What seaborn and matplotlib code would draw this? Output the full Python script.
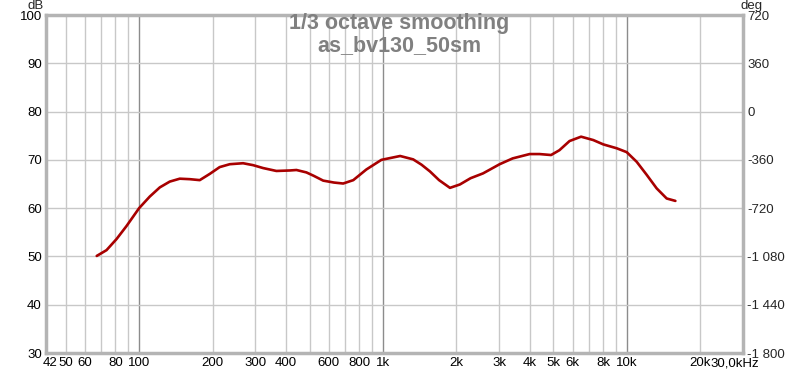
import seaborn as sns
import matplotlib.pyplot as plt
import matplotlib.ticker as mticker
import matplotlib.transforms as mtransforms
import pandas as pd

# Response curve (Hz, dB)
freq = [67, 73.5, 80.8, 88.8, 100, 110.6, 121.6, 133.6, 146.8, 161.3, 177.3, 195, 214,
        235.4, 267, 293.6, 322.6, 365.7, 415, 442, 485.5, 520, 569, 630, 687, 756, 855,
        986, 1177, 1331, 1440, 1560, 1700, 1884, 2069, 2289, 2575, 3013, 3406, 3998,
        4390, 4895, 5298, 5830, 6500, 7294, 8020, 9098, 10000, 10990, 12080, 13270,
        14590, 15840]
spl = [50.1, 51.3, 53.6, 56.3, 60.0, 62.4, 64.3, 65.5, 66.1, 66.0, 65.8, 67.1, 68.5,
       69.1, 69.3, 68.9, 68.3, 67.7, 67.8, 67.9, 67.4, 66.7, 65.7, 65.3, 65.1, 65.8, 68.0,
       70.0, 70.8, 70.1, 69.0, 67.6, 65.8, 64.2, 64.9, 66.2, 67.2, 69.1, 70.3, 71.2,
       71.2, 71.0, 72.0, 73.9, 74.8, 74.1, 73.2, 72.4, 71.6, 69.6, 66.9, 64.1,
       62.0, 61.5]

xtick_vals = [42, 50, 60, 80, 100, 200, 300, 400, 600, 800, 1000, 2000, 3000, 4000,
              5000, 6000, 8000, 10000, 20000, 30000]
xtick_labels = ["42", "50", "60", "80", "100", "200", "300", "400", "600", "800", "1k",
                "2k", "3k", "4k", "5k", "6k", "8k", "10k", "20k", "30,0kHz"]
db_ticks = [30, 40, 50, 60, 70, 80, 90, 100]
deg_ticks = [-1800, -1440, -1080, -720, -360, 0, 360, 720]
deg_labels = ["-1 800", "-1 440", "-1 080", "-720", "-360", "0", "360", "720"]

df = pd.DataFrame({"Frequency": freq, "SPL": spl})

sns.set_style("white")
plt.rcParams["font.family"] = ["Liberation Sans", "DejaVu Sans"]

fig = plt.figure(figsize=(8, 3.74), dpi=100)
ax = fig.add_axes([46 / 800, 21 / 374, 697 / 800, 338 / 374])

ax.set_xscale("log")
ax.set_xlim(41.5, 30000)
ax.set_ylim(30, 100)

# grid: light minor lines, darker decade lines
minor = [m * d for d in (10, 100, 1000, 10000) for m in range(2, 10)]
for v in minor:
    if 41.5 < v < 30000:
        ax.axvline(v, color="#c8c8c8", lw=1, zorder=0)
for v in (100, 1000, 10000):
    ax.axvline(v, color="#8c8c8c", lw=1, zorder=0)
for v in db_ticks[1:-1]:
    ax.axhline(v, color="#c8c8c8", lw=1, zorder=0)

sns.lineplot(data=df, x="Frequency", y="SPL", ax=ax, color="#a80000", lw=1.9,
             sort=False, zorder=3)
ax.lines[-1].set_solid_joinstyle("round")

ax.xaxis.set_major_locator(mticker.FixedLocator(xtick_vals))
ax.xaxis.set_major_formatter(mticker.FixedFormatter(xtick_labels))
ax.xaxis.set_minor_locator(mticker.NullLocator())
ax.set_yticks(db_ticks)
ax.tick_params(axis="both", length=0, labelsize=9.5, pad=3, colors="#000000")
ax.set_xlabel("")
ax.set_ylabel("")

# nudge the edge labels like the reference
lbls = ax.get_xticklabels()
lbls[0].set_transform(lbls[0].get_transform() + mtransforms.ScaledTranslation(3 / 100, 0, fig.dpi_scale_trans))
lbls[-1].set_transform(lbls[-1].get_transform() + mtransforms.ScaledTranslation(-8 / 100, 0, fig.dpi_scale_trans))

for s in ax.spines.values():
    s.set_color("#b4b4b4")
    s.set_linewidth(2.5)

ax2 = ax.twinx()
ax2.set_ylim(-1800, 720)
ax2.set_yticks(deg_ticks)
ax2.set_yticklabels(deg_labels)
ax2.tick_params(axis="y", length=0, labelsize=9.5, pad=3)
for s in ax2.spines.values():
    s.set_visible(False)

fig.text(36 / 800, 1 - 6 / 374, "dB", ha="center", va="center", fontsize=9.5)
fig.text(752 / 800, 1 - 6 / 374, "deg", ha="center", va="center", fontsize=9.5)

fig.text(399 / 800, 1 - 24 / 374, "1/3 octave smoothing", ha="center", va="center",
         fontsize=15.5, fontweight="bold", color="#808080", zorder=5)
fig.text(399 / 800, 1 - 46 / 374, "as_bv130_50sm", ha="center", va="center",
         fontsize=15.5, fontweight="bold", color="#808080", zorder=5)

fig.savefig("out.png", dpi=100)
